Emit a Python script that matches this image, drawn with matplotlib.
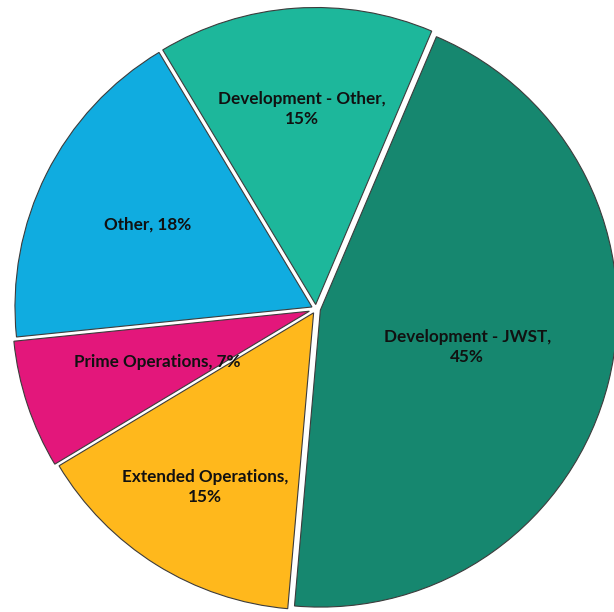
import numpy as np
import matplotlib.pyplot as plt

# budget shares, clockwise from the top-right
labels = ["Development - JWST,\n45%", "Extended Operations,\n15%", "Prime Operations, 7%",
          "Other, 18%", "Development - Other,\n15%"]
shares = [45, 15, 7, 18, 15]
colors = ["#16876f", "#ffb81c", "#e3177b", "#10ace0", "#1db79b"]
label_dist = [0.51, 0.69, 0.54, 0.62, 0.66]   # radial position of each label (fraction of radius)
offsets = [4.5, 4.5, 7, 4.5, 4.5]              # explode, in pixels

fig = plt.figure(figsize=(6.14, 6.12), dpi=100)
ax = fig.add_axes([0, 0, 1, 1])

cx, cy, R = 316, 303, 297
# explode is in data units here (pixels), pie does not scale it by radius
wedges, _ = ax.pie(shares, colors=colors, startangle=67, counterclock=False,
                   center=(cx, cy), radius=R, explode=offsets,
                   wedgeprops=dict(edgecolor="#3c3c3c", linewidth=0.8), frame=True)
ax.set_xlim(0, 614)
ax.set_ylim(0, 612)
ax.set_aspect("equal")
ax.axis("off")

for w, lab, d in zip(wedges, labels, label_dist):
    mid = np.deg2rad((w.theta1 + w.theta2) / 2)
    x = w.center[0] + d * R * np.cos(mid)
    y = w.center[1] + d * R * np.sin(mid)
    ax.text(x, y, lab, ha="center", va="center", fontsize=12.3, fontweight="bold",
            family="Lato", color="#111111", linespacing=1.3)

fig.savefig("out.png", dpi=100)
